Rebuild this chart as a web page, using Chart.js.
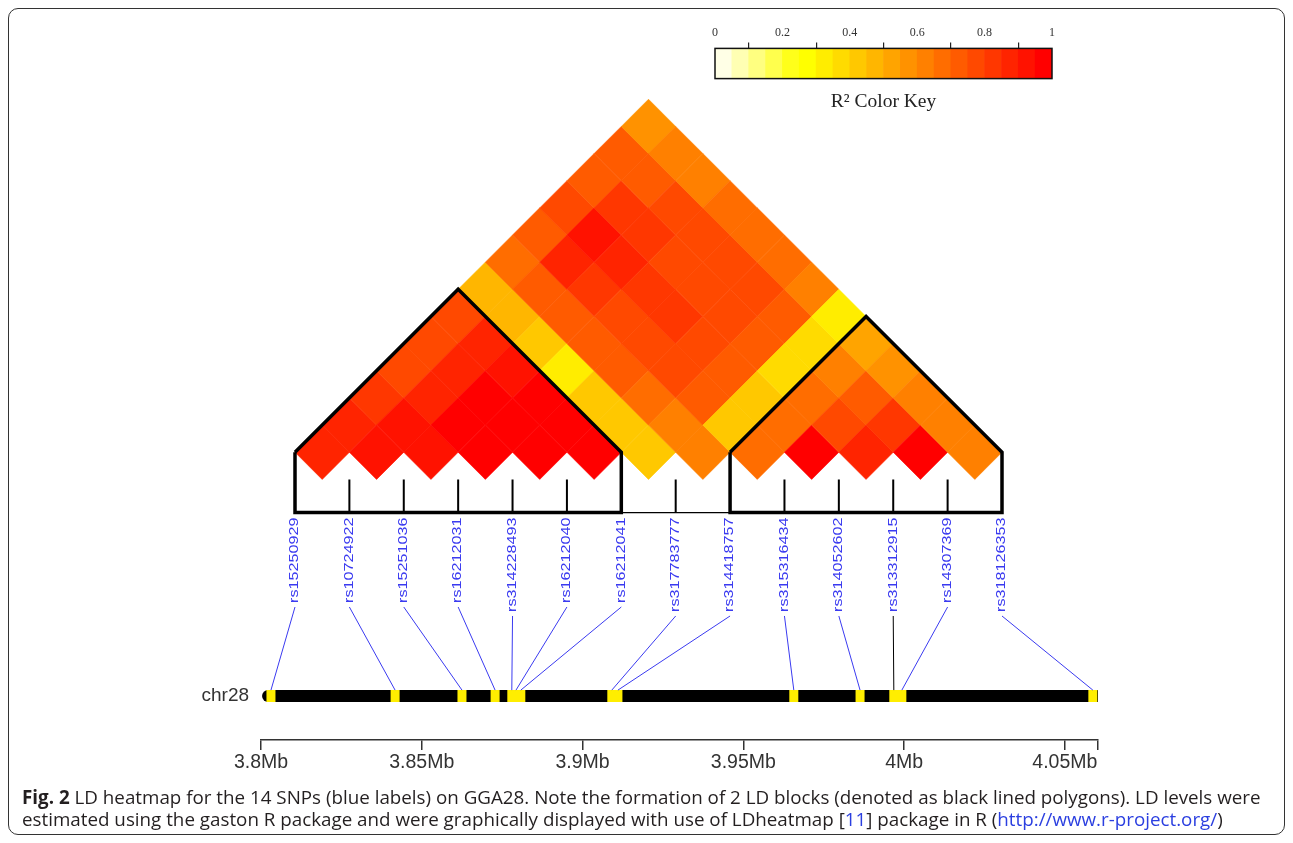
<!DOCTYPE html>
<html>
<head>
<meta charset="utf-8">
<script src="https://cdn.jsdelivr.net/npm/chart.js@4/dist/chart.umd.min.js"></script>
<style>
  body { margin: 0; background: #fff; }
  #frame { position: absolute; left: 8px; top: 8px; width: 1275px; height: 825px;
           border: 1.5px solid #333; border-radius: 10px; }
  #ld { position: absolute; left: 0; top: 0; }
  #key { position: absolute; left: 690px; top: 10px; }
  #caption { position: absolute; left: 22px; top: 786px; font: 18.8px "Open Sans", sans-serif;
             line-height: 22px; color: #231f20; white-space: nowrap; }
  #caption a { color: #2b3fe0; text-decoration: none; }
</style>
</head>
<body>
<div id="frame"></div>
<canvas id="ld" width="1293" height="843"></canvas>
<canvas id="key" width="390" height="104"></canvas>
<div id="caption"><b>Fig. 2</b> LD heatmap for the 14 SNPs (blue labels) on GGA28. Note the formation of 2 LD blocks (denoted as black lined polygons). LD levels were<br>estimated using the gaston R package and were graphically displayed with use of LDheatmap [<a>11</a>] package in R (<a>http://www.r-project.org/</a>)</div>
<script>
// SNPs in map order and their position (Mb) on chr28
const snpNames = ['rs15250929', 'rs10724922', 'rs15251036', 'rs16212031', 'rs314228493',
  'rs16212040', 'rs16212041', 'rs317783777', 'rs314418757', 'rs315316434',
  'rs314052602', 'rs313312915', 'rs14307369', 'rs318126353'];
const snpMb = [3.8031, 3.8417, 3.8625, 3.8728, 3.8780, 3.8793, 3.8808,
  3.9091, 3.9110, 3.9657, 3.9863, 3.9968, 3.9993, 4.0587];

// pairwise r2, row i holds pairs (i, i+1 .. 14)
const r2Rows = [
  [0.85, 0.86, 0.80, 0.78, 0.77, 0.75, 0.45, 0.67, 0.73, 0.76, 0.73, 0.72, 0.57],
  [0.90, 0.90, 0.88, 0.88, 0.87, 0.47, 0.73, 0.85, 0.92, 0.80, 0.73, 0.62],
  [0.93, 0.95, 0.95, 0.92, 0.42, 0.70, 0.80, 0.87, 0.80, 0.76, 0.62],
  [0.97, 0.97, 0.97, 0.33, 0.72, 0.78, 0.80, 0.78, 0.77, 0.65],
  [0.97, 0.97, 0.40, 0.72, 0.77, 0.80, 0.78, 0.77, 0.66],
  [0.97, 0.42, 0.68, 0.75, 0.78, 0.77, 0.76, 0.66],
  [0.44, 0.62, 0.70, 0.73, 0.74, 0.73, 0.64],
  [0.60, 0.43, 0.42, 0.38, 0.35, 0.30],
  [0.66, 0.66, 0.66, 0.62, 0.52],
  [0.95, 0.77, 0.72, 0.58],
  [0.88, 0.83, 0.62],
  [0.97, 0.62],
  [0.60]
];

// LD blocks (first SNP, last SNP)
const ldBlocks = [[1, 7], [9, 14]];

const mbTicks = [3.8, 3.85, 3.9, 3.95, 4.0, 4.05, 4.0603];
const mbTickLabels = ['3.8Mb', '3.85Mb', '3.9Mb', '3.95Mb', '4Mb', '4.05Mb', ''];
const chromName = 'chr28';
const chromRange = [3.8022, 4.0600];

const keyTicks = [0, 0.2, 0.4, 0.6, 0.8, 1];

// heat.colors(20), reversed
const palette = ['#FFFFE6', '#FFFFB3', '#FFFF80', '#FFFF4D', '#FFFF1A', '#FFFF00', '#FFED00',
  '#FFDB00', '#FFC800', '#FFB600', '#FFA400', '#FF9200', '#FF8000', '#FF6D00', '#FF5B00',
  '#FF4900', '#FF3700', '#FF2400', '#FF1200', '#FF0000'];
function heatColor(r) {
  return palette[Math.min(palette.length - 1, Math.floor(r * palette.length))];
}

// layout in heatmap units (1 unit = SNP spacing)
const boxBase = -0.61;
const labelTop = -0.70;
const chromY = -3.99;
const chromHalf = 0.11;
const labelColor = '#3a3af0';
const labelStretch = 1.35;

const cells = [];
r2Rows.forEach((row, k) => {
  row.forEach((r2, m) => {
    const i = k + 1, j = i + m + 1;
    cells.push({x: (i + j) / 2, y: (j - i) / 2, r2: r2});
  });
});

const blockLines = ldBlocks.map(([a, b]) => ({
  type: 'line',
  xAxisID: 'x2',
  data: [{x: a, y: 0.5}, {x: (a + b) / 2, y: (b - a + 1) / 2}, {x: b, y: 0.5},
         {x: b, y: boxBase}, {x: a, y: boxBase}, {x: a, y: 0.5}],
  borderColor: '#000',
  borderWidth: 3.5,
  borderJoinStyle: 'miter',
  pointRadius: 0,
  order: 1
}));

const tickData = [];
snpNames.forEach((n, k) => {
  const i = k + 1;
  const edge = ldBlocks.some(([a, b]) => i === a || i === b);
  if (!edge) tickData.push({x: i, y: 0}, {x: i, y: boxBase}, {x: i, y: null});
});

const markData = [];
snpMb.forEach(mb => {
  markData.push({x: mb, y: chromY + chromHalf}, {x: mb, y: chromY - chromHalf}, {x: mb, y: null});
});

const snpAnnotations = {
  id: 'snpAnnotations',
  afterDatasetsDraw(chart) {
    const {ctx} = chart;
    const {x, x2, y} = chart.scales;
    const top = y.getPixelForValue(labelTop);
    const chromTop = y.getPixelForValue(chromY + chromHalf);
    ctx.save();
    ctx.font = '12px "Liberation Sans", Arial, sans-serif';
    snpNames.forEach((name, k) => {
      const px = x2.getPixelForValue(k + 1);
      const len = ctx.measureText(name).width * labelStretch;
      ctx.save();
      ctx.translate(px, top);
      ctx.rotate(-Math.PI / 2);
      ctx.scale(labelStretch, 1);
      ctx.fillStyle = labelColor;
      ctx.textAlign = 'right';
      ctx.textBaseline = 'middle';
      ctx.fillText(name, 0, 0);
      ctx.restore();

      ctx.beginPath();
      ctx.moveTo(px, top + len + 4);
      ctx.lineTo(x.getPixelForValue(snpMb[k]), chromTop);
      ctx.strokeStyle = k === 11 ? '#000' : labelColor;
      ctx.lineWidth = 1;
      ctx.stroke();
    });
    ctx.font = '19px "Liberation Sans", Arial, sans-serif';
    ctx.fillStyle = '#333';
    ctx.textAlign = 'right';
    ctx.textBaseline = 'middle';
    ctx.fillText(chromName, x.getPixelForValue(chromRange[0]) - 19, y.getPixelForValue(chromY));
    ctx.restore();
  }
};

new Chart(document.getElementById('ld'), {
  type: 'scatter',
  data: {
    datasets: [
      {
        xAxisID: 'x2',
        data: cells,
        pointStyle: 'rectRot',
        pointRadius: (c) => {
          const s = c.chart.scales.x2;
          return Math.abs(s.getPixelForValue(1) - s.getPixelForValue(0)) / 2;
        },
        backgroundColor: (c) => heatColor(c.raw.r2),
        borderColor: (c) => heatColor(c.raw.r2),
        borderWidth: 0.6,
        order: 10
      },
      {
        type: 'line',
        xAxisID: 'x2',
        data: [{x: 1, y: boxBase}, {x: snpNames.length, y: boxBase}],
        borderColor: '#000',
        borderWidth: 1.2,
        pointRadius: 0,
        order: 8
      },
      {
        type: 'line',
        xAxisID: 'x2',
        data: tickData,
        borderColor: '#000',
        borderWidth: 2,
        pointRadius: 0,
        spanGaps: false,
        order: 6
      },
      {
        type: 'line',
        xAxisID: 'x',
        data: [{x: chromRange[0], y: chromY}, {x: chromRange[1], y: chromY}],
        borderColor: '#000',
        borderWidth: 12,
        borderCapStyle: 'round',
        pointRadius: 0,
        order: 5
      },
      {
        type: 'line',
        xAxisID: 'x',
        data: markData,
        borderColor: '#ffee00',
        borderWidth: 9,
        borderCapStyle: 'butt',
        pointRadius: 0,
        spanGaps: false,
        order: 4
      },
      ...blockLines
    ]
  },
  options: {
    responsive: false,
    animation: false,
    events: [],
    devicePixelRatio: 1,
    layout: {padding: {left: 261, right: 195, top: 95, bottom: 67.6}},
    plugins: {legend: {display: false}, tooltip: {enabled: false}},
    scales: {
      x: {
        type: 'linear',
        position: 'bottom',
        min: 3.8,
        max: 4.0603,
        afterBuildTicks: (scale) => { scale.ticks = mbTicks.map(v => ({value: v})); },
        ticks: {
          autoSkip: false,
          maxRotation: 0,
          padding: 1,
          color: '#333',
          font: {family: '"Liberation Sans", Arial, sans-serif', size: 19.5},
          callback: (v, idx) => mbTickLabels[idx]
        },
        grid: {display: true, drawOnChartArea: false, tickLength: 10, color: '#333', lineWidth: 1.5},
        border: {display: true, color: '#333', width: 1.5}
      },
      x2: {type: 'linear', display: false, min: 0.3748, max: 15.7652},
      y: {type: 'linear', display: false, min: -4.799, max: 7.079}
    }
  },
  plugins: [snpAnnotations]
});

// colour key
const keyBins = palette.map((c, k) => (k + 0.5) / palette.length);
new Chart(document.getElementById('key'), {
  type: 'bar',
  data: {
    datasets: [{
      data: keyBins.map(v => ({x: v, y: 1})),
      backgroundColor: palette,
      barPercentage: 1,
      categoryPercentage: 1,
      borderWidth: 0
    }]
  },
  options: {
    responsive: false,
    animation: false,
    events: [],
    devicePixelRatio: 1,
    layout: {padding: {left: 25, right: 28, top: 14, bottom: 0}},
    plugins: {
      legend: {display: false},
      tooltip: {enabled: false},
      title: {
        display: true,
        position: 'bottom',
        text: 'R² Color Key',
        color: '#222',
        font: {family: '"Liberation Serif", "Times New Roman", serif', size: 19.5, weight: 'normal'},
        padding: {top: 12, bottom: 0}
      }
    },
    scales: {
      x: {
        type: 'linear',
        position: 'top',
        min: 0,
        max: 1,
        offset: false,
        afterBuildTicks: (scale) => { scale.ticks = keyTicks.map(v => ({value: v})); },
        ticks: {color: '#333', padding: 2, maxRotation: 0,
                font: {family: '"Liberation Serif", "Times New Roman", serif', size: 12},
                callback: (v) => String(v)},
        grid: {display: true, drawOnChartArea: false, tickLength: 6, color: '#222', lineWidth: 1.2},
        border: {display: false}
      },
      y: {display: false, min: 0, max: 1}
    }
  },
  plugins: [{
    id: 'keyFrame',
    afterDatasetsDraw(chart) {
      const {ctx, chartArea: a} = chart;
      ctx.save();
      ctx.strokeStyle = '#111';
      ctx.lineWidth = 1.5;
      ctx.strokeRect(a.left, a.top, a.right - a.left, a.bottom - a.top);
      ctx.restore();
    }
  }]
});
</script>
</body>
</html>
